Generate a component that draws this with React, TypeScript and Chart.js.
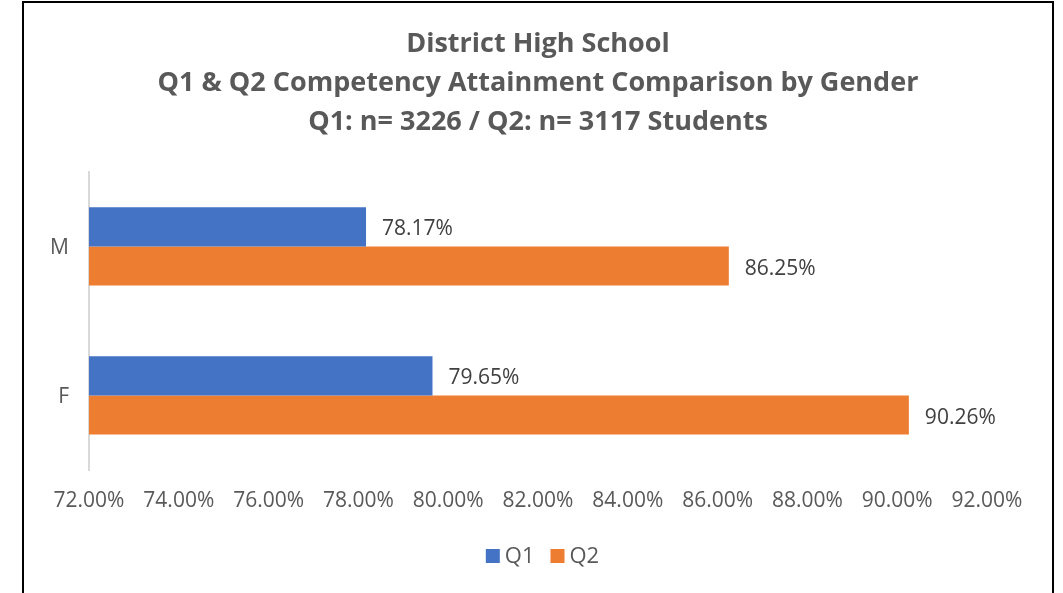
import React, { useEffect, useRef } from "react";
import { Chart, registerables } from "chart.js";

Chart.register(...registerables);

const categories = ["M", "F"];
const q1Values = [78.17, 79.65];
const q2Values = [86.25, 90.26];
const seriesNames = ["Q1", "Q2"];
const seriesColors = ["#4472C4", "#ED7D31"];
const titleLines = [
  "District High School",
  "Q1 & Q2 Competency Attainment Comparison by Gender",
  "Q1: n= 3226 / Q2: n= 3117 Students",
];
const xMin = 72;
const xMax = 92;
const xStep = 2;

const FONT = "'Open Sans', 'Noto Sans', sans-serif";

const dataLabelPlugin = {
  id: "dataLabels",
  afterDatasetsDraw(chart: any) {
    const ctx = chart.ctx;
    ctx.save();
    ctx.font = `21px ${FONT}`;
    ctx.fillStyle = "#404040";
    ctx.textAlign = "left";
    ctx.textBaseline = "middle";
    chart.data.datasets.forEach((ds: any, di: number) => {
      const meta = chart.getDatasetMeta(di);
      meta.data.forEach((el: any, i: number) => {
        const v = ds.data[i] as number;
        ctx.fillText(v.toFixed(2) + "%", el.x + 16, el.y + 2.5);
      });
    });
    ctx.restore();
  },
};

const customLegendPlugin = {
  id: "customLegend",
  afterDraw(chart: any) {
    const ctx = chart.ctx;
    ctx.save();
    ctx.font = `22px ${FONT}`;
    ctx.textBaseline = "middle";
    ctx.textAlign = "left";
    const box = 14;
    const gap = 5;
    const itemGap = 16;
    const items = chart.data.datasets.map((ds: any) => ({
      label: ds.label as string,
      color: ds.backgroundColor as string,
      w: ctx.measureText(ds.label).width,
    }));
    const total =
      items.reduce((s: number, it: any) => s + box + gap + it.w, 0) +
      itemGap * (items.length - 1);
    const cy = 556;
    let x = chart.width / 2 + 11 - total / 2;
    items.forEach((it: any) => {
      ctx.fillStyle = it.color;
      ctx.fillRect(x, cy - box / 2, box, box);
      x += box + gap;
      ctx.fillStyle = "#595959";
      ctx.fillText(it.label, x, cy + 1);
      x += it.w + itemGap;
    });
    ctx.restore();
  },
};

export default function App() {
  const ref = useRef<HTMLCanvasElement | null>(null);
  useEffect(() => {
    if (!ref.current) return;
    const chart = new Chart(ref.current, {
      type: "bar",
      data: {
        labels: categories,
        datasets: [
          {
            label: seriesNames[0],
            data: q1Values,
            backgroundColor: seriesColors[0],
            categoryPercentage: 0.525,
            barPercentage: 1,
          },
          {
            label: seriesNames[1],
            data: q2Values,
            backgroundColor: seriesColors[1],
            categoryPercentage: 0.525,
            barPercentage: 1,
          },
        ],
      },
      options: {
        indexAxis: "y",
        responsive: false,
        animation: false,
        layout: { padding: { left: 24, right: 11, top: 0, bottom: 59 } },
        plugins: {
          title: {
            display: true,
            text: titleLines,
            color: "#595959",
            font: { family: FONT, size: 27, weight: "bold", lineHeight: 1.444 },
            padding: { top: 25, bottom: 30 },
          },
          legend: { display: false },
          tooltip: { enabled: false },
        },
        scales: {
          x: {
            type: "linear",
            min: xMin,
            max: xMax,
            grid: { display: false, drawTicks: false },
            border: { display: false },
            ticks: {
              stepSize: xStep,
              color: "#595959",
              font: { family: FONT, size: 21 },
              padding: 18,
              callback: (v: any) => Number(v).toFixed(2) + "%",
            },
            afterFit: (s: any) => {
              s.height = 64;
            },
          },
          y: {
            grid: { color: "transparent", drawTicks: false },
            border: { display: true, color: "#D9D9D9", width: 2 },
            ticks: {
              color: "#595959",
              font: { family: FONT, size: 21 },
              padding: 20,
              labelOffset: 2,
            },
            afterFit: (s: any) => {
              s.width = 65;
            },
          },
          yRight: {
            type: "category",
            position: "right",
            display: true,
            grid: { display: false, drawTicks: false },
            border: { display: false },
            ticks: { display: false },
            afterFit: (s: any) => {
              s.width = 65;
            },
          },
        },
      },
      plugins: [dataLabelPlugin, customLegendPlugin],
    });
    return () => chart.destroy();
  }, []);

  return (
    <div
      style={{
        position: "fixed",
        left: 0,
        top: 0,
        width: 1063,
        height: 593,
        overflow: "hidden",
        background: "#fff",
      }}
    >
      <div
        style={{
          position: "absolute",
          left: 22,
          top: 1,
          width: 1032,
          height: 640,
          border: "2px solid #000",
          boxSizing: "border-box",
        }}
      />
      <canvas
        ref={ref}
        width={1063}
        height={593}
        style={{ position: "absolute", left: 0, top: 0, display: "block" }}
      />
    </div>
  );
}
